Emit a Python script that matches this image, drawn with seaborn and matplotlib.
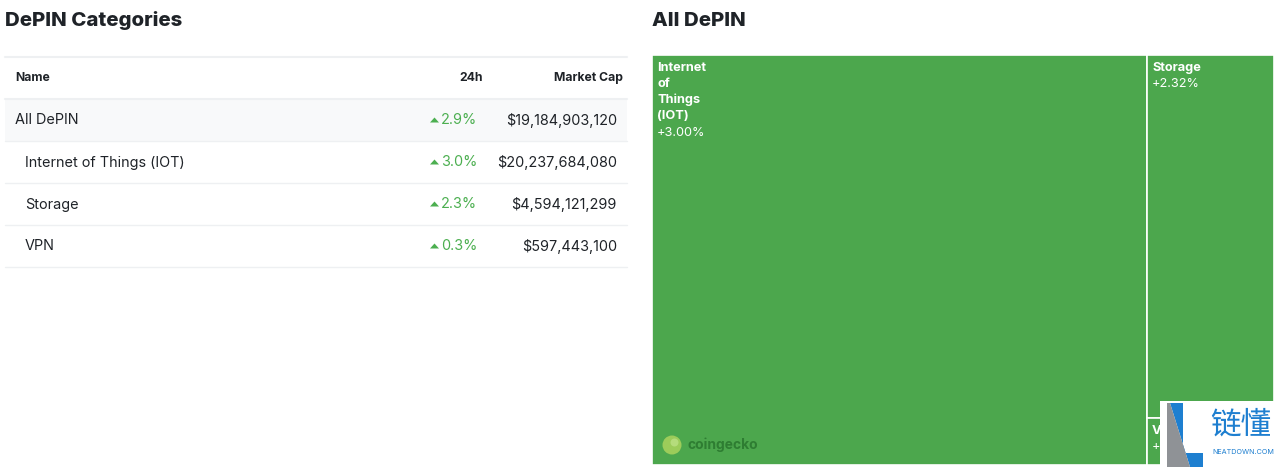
import matplotlib
matplotlib.use("Agg")
import matplotlib.pyplot as plt
import seaborn as sns
from matplotlib.patches import Rectangle, Polygon, Circle

sns.set_theme(style="white")
plt.rcParams['font.family'] = ['Inter', 'DejaVu Sans']

# ---- data ----
row_names = ["All DePIN", "Internet of Things (IOT)", "Storage", "VPN"]
row_change = [2.9, 3.0, 2.3, 0.3]
row_mcap = [19184903120, 20237684080, 4594121299, 597443100]
row_indent = [0, 1, 1, 1]

tm_labels = ["Internet\nof\nThings\n(IOT)", "Storage", "VPN"]
tm_values = [20237684080, 4594121299, 597443100]
tm_change = ["+3.00%", "+2.32%", "+0.30%"]

W, H = 1280, 471
fig = plt.figure(figsize=(W / 100, H / 100), dpi=100)
fig.patch.set_facecolor("white")

TXT = "#1f2328"
GREEN_TXT = "#4caf50"
GRID = "#eef0f2"

# ---- left table (pixel coordinates) ----
ax = fig.add_axes([0, 0, 0.5, 1])
ax.set_xlim(0, 640)
ax.set_ylim(H, 0)
ax.axis("off")

ax.text(5, 21, "DePIN Categories", fontsize=14.7, fontweight="heavy", color=TXT,
        va="center", ha="left")
ax.plot([5, 627], [57, 57], color=GRID, lw=1.5)
ax.text(15, 78, "Name", fontsize=8.8, fontweight="bold", color=TXT, va="center")
ax.text(483, 78, "24h", fontsize=8.8, fontweight="bold", color=TXT, va="center", ha="right")
ax.text(623, 78, "Market Cap", fontsize=8.8, fontweight="bold", color=TXT, va="center", ha="right")
ax.plot([5, 627], [98.5, 98.5], color=GRID, lw=1.5)

row_h = 42
top = 99
for i, (nm, ch, mc, ind) in enumerate(zip(row_names, row_change, row_mcap, row_indent)):
    y0 = top + i * row_h
    yc = y0 + row_h / 2 + 0.5
    if i == 0:
        ax.add_patch(Rectangle((5, y0), 622, row_h, color="#f8f9fa", lw=0))
    ax.plot([5, 627], [y0 + row_h, y0 + row_h], color=GRID, lw=1)
    ax.text(15 + 10 * ind, yc, nm, fontsize=10.4, color=TXT, va="center")
    ax.add_patch(Polygon([[430, yc + 2], [439, yc + 2], [434.5, yc - 3]],
                         closed=True, color=GREEN_TXT, lw=0))
    ax.text(477, yc, f"{ch:.1f}%", fontsize=10.4, color=GREEN_TXT, va="center", ha="right")
    ax.text(617, yc, f"${mc:,}", fontsize=10.4, color=TXT, va="center", ha="right")

# ---- treemap ----
total = sum(tm_values)
tx0, ty0, tw, th = 652, 55, 622, 410
ax2 = fig.add_axes([tx0 / W, (H - ty0 - th) / H, tw / W, th / H])
ax2.set_xlim(0, total)
ax2.set_ylim(1, 0)
ax2.axis("off")

TM_GREEN = "#4ca74d"
rects = []
rects.append((0, 0, tm_values[0], 1))
rest = tm_values[1] + tm_values[2]
h1 = tm_values[1] / rest
rects.append((tm_values[0], 0, rest, h1))
rects.append((tm_values[0], h1, rest, 1 - h1))

for (x, y, w, h), lab, chg in zip(rects, tm_labels, tm_change):
    ax2.add_patch(Rectangle((x, y), w, h, facecolor=TM_GREEN, edgecolor="white", lw=1.2))
    nlines = lab.count("\n") + 1
    ax2.annotate(lab, (x, y), xytext=(5, -7), textcoords="offset pixels",
                 fontsize=9.2, fontweight="bold", color="white", va="top", ha="left",
                 linespacing=1.42)
    ax2.annotate(chg, (x, y), xytext=(5, -7 - 16.3 * nlines), textcoords="offset pixels",
                 fontsize=9.2, color="white", va="top", ha="left")

# ---- overlay (pixel coordinates over whole figure) ----
ov = fig.add_axes([0, 0, 1, 1], zorder=10)
ov.set_xlim(0, W)
ov.set_ylim(H, 0)
ov.axis("off")
ov.patch.set_alpha(0)

ov.text(652, 21, "All DePIN", fontsize=14.7, fontweight="heavy", color=TXT,
        va="center", ha="left")

# coingecko mark
ov.add_patch(Circle((672, 445), 9.5, color="#9ccc5a", lw=0))
ov.add_patch(Circle((674.5, 442.5), 4, color="#b5dc7c", lw=0))
ov.text(688, 445, "coingecko", fontsize=10, fontweight="bold", color="#2e7d32",
        va="center", ha="left")

# watermark box (bottom right)
ov.add_patch(Rectangle((1160, 401), 120, 70, color="white", lw=0))
ov.add_patch(Polygon([[1170, 403], [1183, 403], [1183, 453], [1203, 453],
                      [1203, 467], [1190, 467]], closed=True, color="#1e7fd0", lw=0))
ov.add_patch(Polygon([[1167, 403], [1170, 403], [1190, 467], [1167, 467]],
                     closed=True, color="#8f9296", lw=0))
ov.text(1241, 425, "链懂", fontsize=22, color="#1e7fd0", ha="center", va="center",
        family=["Noto Sans CJK SC", "DejaVu Sans"])
ov.text(1243, 452, "NEATDOWN.COM", fontsize=5.2, color="#1e7fd0", ha="center", va="center")

fig.savefig("out.png", dpi=100, facecolor="white")
